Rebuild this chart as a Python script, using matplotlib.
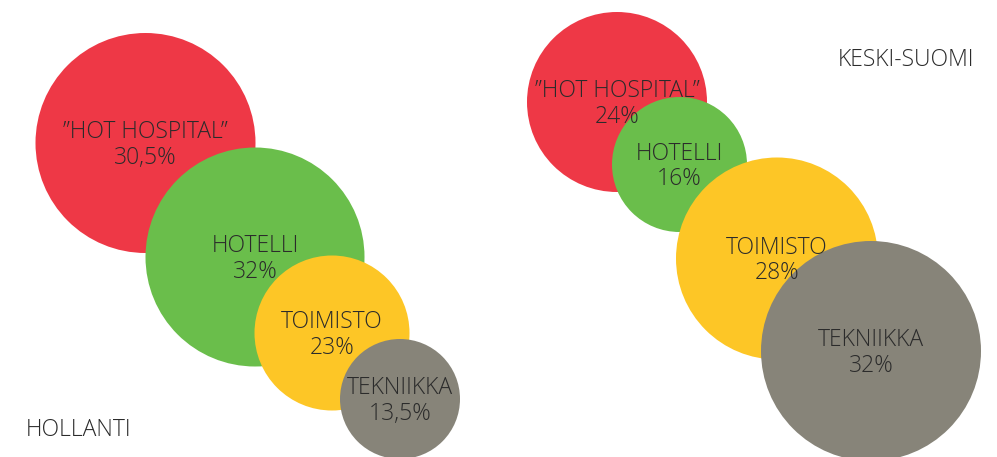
import matplotlib
matplotlib.use("Agg")
import matplotlib.pyplot as plt
from matplotlib.patches import Circle

# Datos
categories = ["”HOT HOSPITAL”", "HOTELLI", "TOIMISTO", "TEKNIIKKA"]
hollanti = ["30,5%", "32%", "23%", "13,5%"]
keski_suomi = ["24%", "16%", "28%", "32%"]
regions = ["HOLLANTI", "KESKI-SUOMI"]
colors = ["#ee3846", "#6abe4b", "#fdc626", "#878479"]

# Disposición de las burbujas (x, y, radio) en píxeles
layout_left = [(145.5, 143, 110), (255, 257, 109.5), (332, 333, 77.5), (400, 399, 60)]
layout_right = [(617, 102, 90), (679.5, 164.5, 67.5), (777, 258.5, 101), (871, 351, 110)]

W, H = 997, 457
fig = plt.figure(figsize=(W / 100, H / 100), dpi=100)
ax = fig.add_axes([0, 0, 1, 1])
ax.set_xlim(0, W)
ax.set_ylim(H, 0)
ax.set_aspect("equal")
ax.axis("off")

font = dict(family="Open Sans", fontweight="light", fontsize=16.5, color="#2b2b2b")

for values, layout in [(hollanti, layout_left), (keski_suomi, layout_right)]:
    # primero los círculos, luego las etiquetas encima
    for (x, y, r), c in zip(layout, colors):
        ax.add_patch(Circle((x, y), r, facecolor=c, edgecolor="none"))
    for (x, y, r), cat, v in zip(layout, categories, values):
        ax.text(x, y + 2, cat + "\n" + v, ha="center", va="center",
                linespacing=1.1, **font)

ax.text(26, 430, regions[0], ha="left", va="center", **font)
ax.text(974, 60, regions[1], ha="right", va="center", **font)

fig.savefig("out.png", dpi=100)
